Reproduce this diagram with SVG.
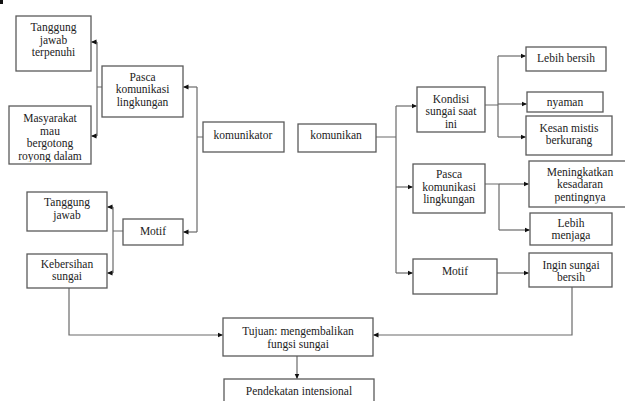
<svg xmlns="http://www.w3.org/2000/svg" width="625" height="401" viewBox="0 0 625 401">
<style>
.b{fill:#fff;stroke:#5a5a5a;stroke-width:1.3}
text{font-family:'Liberation Serif','DejaVu Serif',serif;font-size:11.5px;fill:#222;text-anchor:middle}
.c{fill:none;stroke:#6a6a6a;stroke-width:1.2}
</style>
<defs>
<marker id="a" markerWidth="6" markerHeight="6" refX="5" refY="3" orient="auto" markerUnits="userSpaceOnUse">
<path d="M0,0.5 L5.5,3 L0,5.5 Z" fill="#111"/>
</marker>
<clipPath id="k3"><rect x="9" y="106" width="82" height="56"/></clipPath>
<clipPath id="kr2"><rect x="417" y="87" width="68" height="41.5"/></clipPath>
<clipPath id="kr7"><rect x="529" y="161" width="97" height="42.5"/></clipPath>
<clipPath id="kr8"><rect x="530" y="213" width="82" height="28.5"/></clipPath>
</defs>
<rect x="0" y="0" width="3" height="4" fill="#111"/>
<g id="connectors">
<path class="c" d="M203,137 H197 M197,87 V232"/>
<path class="c" d="M197,87 H183.5" marker-end="url(#a)"/>
<path class="c" d="M197,232 H183.5" marker-end="url(#a)"/>
<path class="c" d="M102,87 H97 M97,42 V136"/>
<path class="c" d="M97,42 H91.5" marker-end="url(#a)"/>
<path class="c" d="M97,136 H91.5" marker-end="url(#a)"/>
<path class="c" d="M123,231 H113 M113,207 V273"/>
<path class="c" d="M113,207 H107.5" marker-end="url(#a)"/>
<path class="c" d="M113,273 H107.5" marker-end="url(#a)"/>
<path class="c" d="M69,288 V335 H222.5" marker-end="url(#a)"/>
<path class="c" d="M376,137 H396 M396,106 V273"/>
<path class="c" d="M396,106 H416.5" marker-end="url(#a)"/>
<path class="c" d="M396,187 H412.5" marker-end="url(#a)"/>
<path class="c" d="M396,273 H412.5" marker-end="url(#a)"/>
<path class="c" d="M485,105 H498 M498,56 V137"/>
<path class="c" d="M498,56 H525.5" marker-end="url(#a)"/>
<path class="c" d="M498,104 H526.5" marker-end="url(#a)"/>
<path class="c" d="M498,137 H525.5" marker-end="url(#a)"/>
<path class="c" d="M485,184 H499 M499,184 V230"/>
<path class="c" d="M499,184 H528.5" marker-end="url(#a)"/>
<path class="c" d="M499,230 H529.5" marker-end="url(#a)"/>
<path class="c" d="M497,273 H528.5" marker-end="url(#a)"/>
<path class="c" d="M572,287 V335 H373.5" marker-end="url(#a)"/>
<path class="c" d="M297,356 V378.5" marker-end="url(#a)"/>
</g>
<g id="l1"><rect class="b" x="16" y="16" width="75" height="55"/><text x="53.5" y="31">Tanggung</text><text x="53.5" y="43.5">jawab</text><text x="53.5" y="56">terpenuhi</text></g>
<g id="l2"><rect class="b" x="102" y="66" width="81" height="51"/><text x="142.5" y="80.5">Pasca</text><text x="142.5" y="93">komunikasi</text><text x="142.5" y="105.5">lingkungan</text></g>
<g id="l3"><rect class="b" x="9" y="106" width="82" height="58"/><g clip-path="url(#k3)"><text x="50" y="122">Masyarakat</text><text x="50" y="134.5">mau</text><text x="50" y="147">bergotong</text><text x="50" y="159.5">royong dalam</text></g></g>
<g id="l4"><rect class="b" x="203" y="122" width="81" height="30"/><text x="243" y="139">komunikator</text></g>
<g id="l5"><rect class="b" x="27" y="192" width="80" height="39"/><text x="67" y="206">Tanggung</text><text x="67" y="218.5">jawab</text></g>
<g id="l6"><rect class="b" x="123" y="219" width="60" height="26"/><text x="153" y="234.5">Motif</text></g>
<g id="l7"><rect class="b" x="27" y="254" width="80" height="34"/><text x="67" y="268">Kebersihan</text><text x="67" y="280">sungai</text></g>
<g id="r1"><rect class="b" x="298" y="124" width="78" height="28"/><text x="336" y="138.5">komunikan</text></g>
<g id="r2"><rect class="b" x="417" y="87" width="68" height="45"/><g clip-path="url(#kr2)"><text x="451" y="103">Kondisi</text><text x="451" y="115">sungai saat</text><text x="451" y="127.5">ini</text></g></g>
<g id="r3"><rect class="b" x="526" y="47" width="80" height="24"/><text x="566" y="62">Lebih bersih</text></g>
<g id="r4"><rect class="b" x="527" y="92" width="76" height="20"/><text x="565" y="105.5">nyaman</text></g>
<g id="r5"><rect class="b" x="526" y="116" width="86" height="39"/><text x="569" y="132">Kesan mistis</text><text x="569" y="144">berkurang</text></g>
<g id="r6"><rect class="b" x="413" y="164" width="72" height="49"/><text x="449" y="178">Pasca</text><text x="449" y="190.5">komunikasi</text><text x="449" y="202.5">lingkungan</text></g>
<g id="r7"><rect class="b" x="529" y="161" width="100" height="46"/><g clip-path="url(#kr7)"><text x="580" y="176">Meningkatkan</text><text x="580" y="188">kesadaran</text><text x="580" y="200.5">pentingnya</text></g></g>
<g id="r8"><rect class="b" x="530" y="213" width="82" height="32"/><g clip-path="url(#kr8)"><text x="571" y="226.5">Lebih</text><text x="571" y="239">menjaga</text></g></g>
<g id="r9"><rect class="b" x="413" y="259" width="84" height="35"/><text x="455" y="274.5">Motif</text></g>
<g id="r10"><rect class="b" x="529" y="253" width="83" height="34"/><text x="571" y="269">Ingin sungai</text><text x="571" y="281">bersih</text></g>
<g id="b1"><rect class="b" x="223" y="318" width="150" height="38"/><text x="298" y="335">Tujuan: mengembalikan</text><text x="298" y="347.5">fungsi sungai</text></g>
<g id="b2"><rect class="b" x="224" y="379" width="150" height="30"/><text x="299" y="395">Pendekatan intensional</text></g>
</svg>
